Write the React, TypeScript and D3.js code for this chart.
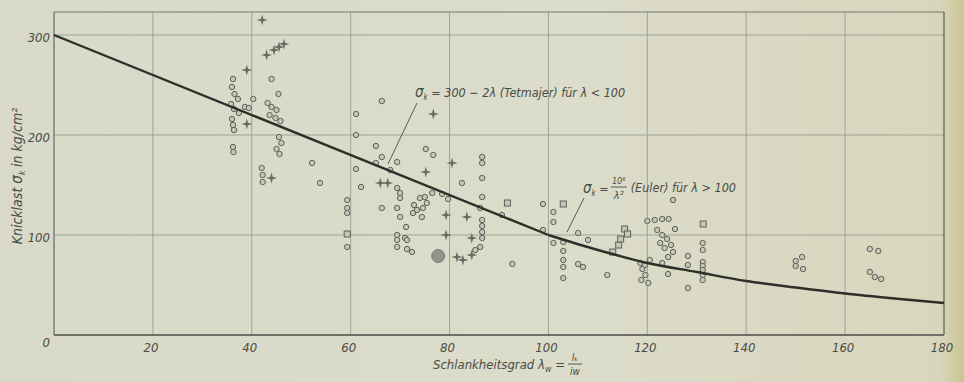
import * as d3 from 'd3';
import { useEffect, useRef } from 'react';

type Pt = [number, number]; // [lambda, sigma]

const W = 964;
const H = 382;

const xTicks = [0, 20, 40, 60, 80, 100, 120, 140, 160, 180];
const yTicks = [0, 100, 200, 300];

// Tetmajer line and Euler curve
const tetmajer: Pt[] = [[0, 300], [100, 100]];
const euler: Pt[] = [
  [100, 100], [110, 85], [120, 72], [130, 63], [140, 54],
  [150, 47.5], [160, 41.5], [170, 36.5], [180, 32],
];

// test results: small circles
const circles: Pt[] = [
  [36.2, 256], [44, 256], [45.4, 241], [36, 248], [36.5, 241], [37.2, 236], [35.8, 231],
  [36.4, 226], [37.4, 222], [36, 216], [38.6, 228], [39.4, 227], [40.3, 236], [43.2, 232],
  [44, 228], [45, 225], [43.6, 220], [44.8, 217], [45.8, 214], [36.2, 210], [36.4, 205],
  [36.2, 188], [36.3, 183], [45.5, 198], [46, 192], [45, 186], [45.6, 181], [42, 167],
  [42.2, 160], [42.2, 153], [52.2, 172], [53.8, 152],
  [66.3, 234], [61.1, 221], [61.1, 200], [65.1, 189], [66.3, 178], [65.1, 172], [68, 165],
  [69.4, 173], [61.1, 166], [62.1, 148], [69.4, 147], [70, 142], [70, 137], [59.3, 135],
  [59.3, 127], [59.3, 122], [66.3, 127], [69.4, 127], [70, 118], [71.2, 108], [71, 97],
  [59.3, 88], [69.4, 100], [69.4, 95], [69.4, 88], [71.4, 95], [71.4, 86], [72.4, 83],
  [74, 137], [75, 138], [75.4, 132], [74.6, 127], [73.4, 125], [72.6, 122], [74.4, 118],
  [76.5, 142], [72.8, 130], [75.2, 186], [76.7, 180], [78.5, 141], [79.7, 136],
  [86.6, 178], [86.6, 172], [86.6, 157], [82.5, 152], [86.6, 138], [86.2, 127],
  [86.6, 115], [86.6, 109], [86.6, 103], [86.6, 97], [86.2, 88], [85.2, 85], [90.6, 120],
  [92.7, 71],
  [98.9, 131], [101, 123], [101, 113], [98.9, 105], [101, 92], [103, 93], [103, 84],
  [103, 75], [103, 68], [103, 57], [106, 102], [108, 95], [106, 71], [107, 68], [111.9, 60],
  [125.2, 135], [120, 114], [121.5, 115], [123, 116], [124.3, 116], [122, 105], [123, 100],
  [124, 96], [122.6, 92], [124.8, 90], [123.5, 87], [125.6, 106], [118.6, 72], [119, 66],
  [119.6, 60], [118.8, 55], [120.2, 52], [120.5, 75], [119.5, 70], [123, 72], [124.2, 78],
  [125.2, 83], [124.2, 61], [128.2, 79], [128.2, 70], [128.2, 47], [131.2, 92], [131.2, 85],
  [131.2, 73], [131.2, 69], [131.2, 65], [131.2, 60], [131.2, 55],
  [150, 74], [151.3, 78], [150, 69], [151.5, 66], [165, 86], [166.7, 84], [165, 63],
  [166, 58], [167.3, 56],
];

// small squares
const squares: Pt[] = [
  [59.3, 101], [91.7, 132], [103, 131], [113, 83], [114.2, 90], [114.6, 96], [115.4, 106],
  [116, 101], [131.3, 111],
];

// four-pointed stars
const stars: Pt[] = [
  [42.1, 315], [43, 280], [44.5, 285], [45.5, 288], [46.5, 291], [39, 265], [39, 211],
  [44, 157], [66, 152], [67.5, 152], [76.7, 221], [75.2, 163], [80.5, 172], [79.3, 120],
  [79.3, 100], [81.5, 78], [82.7, 75], [83.5, 118], [84.5, 97], [84.5, 80],
];

// hatched blob
const blobs: Pt[] = [[77.7, 79]];

const starPath = (cx: number, cy: number, r: number) => {
  const ri = r * 0.3;
  const pts: string[] = [];
  for (let i = 0; i < 8; i++) {
    const a = (i * Math.PI) / 4;
    const rr = i % 2 === 0 ? r : ri;
    pts.push(`${cx + rr * Math.sin(a)},${cy - rr * Math.cos(a)}`);
  }
  return 'M' + pts.join('L') + 'Z';
};

const FONT = '"DejaVu Sans Condensed", "Liberation Sans Narrow", sans-serif';
const INK = '#4b4b47';

const KnickChart: React.FC = () => {
  const ref = useRef<SVGSVGElement | null>(null);

  useEffect(() => {
    if (!ref.current) return;
    const svg = d3.select(ref.current);
    svg.selectAll('*').remove();

    const x = d3.scaleLinear().domain([0, 180]).range([54, 944]);
    const y = d3.scaleLinear().domain([0, 300]).range([335, 35]);
    const yTop = y(323);

    const defs = svg.append('defs');
    const grad = defs.append('linearGradient').attr('id', 'paper');
    grad.append('stop').attr('offset', '0').attr('stop-color', '#d8d9c8');
    grad.append('stop').attr('offset', '0.6').attr('stop-color', '#dbdcca');
    grad.append('stop').attr('offset', '0.975').attr('stop-color', '#d8d7bd');
    grad.append('stop').attr('offset', '1').attr('stop-color', '#cbc38f');
    svg.append('rect').attr('width', W).attr('height', H).attr('fill', 'url(#paper)');

    // grid
    const g = svg.append('g');
    g.selectAll('line.vx')
      .data(xTicks.slice(1, -1))
      .enter().append('line')
      .attr('x1', d => x(d)).attr('x2', d => x(d))
      .attr('y1', yTop).attr('y2', y(0))
      .attr('stroke', '#9b9c93').attr('stroke-width', 0.9);
    g.selectAll('line.hy')
      .data(yTicks.slice(1))
      .enter().append('line')
      .attr('x1', x(0)).attr('x2', x(180))
      .attr('y1', d => y(d)).attr('y2', d => y(d))
      .attr('stroke', '#9b9c93').attr('stroke-width', 0.9);

    // frame
    g.append('line').attr('x1', x(0)).attr('x2', x(180)).attr('y1', yTop).attr('y2', yTop)
      .attr('stroke', '#76766f').attr('stroke-width', 1);
    g.append('line').attr('x1', x(180)).attr('x2', x(180)).attr('y1', yTop).attr('y2', y(0))
      .attr('stroke', '#5e5e58').attr('stroke-width', 1.2);
    g.append('line').attr('x1', x(0)).attr('x2', x(0)).attr('y1', yTop).attr('y2', y(0))
      .attr('stroke', '#5e5e58').attr('stroke-width', 1.1);
    g.append('line').attr('x1', x(0)).attr('x2', x(180)).attr('y1', y(0)).attr('y2', y(0))
      .attr('stroke', '#4d4d48').attr('stroke-width', 1.5);

    // tick labels
    g.selectAll('text.xt')
      .data(xTicks.slice(1))
      .enter().append('text')
      .attr('x', d => x(d) - 2).attr('y', 352)
      .attr('text-anchor', 'middle')
      .style('font-family', FONT).style('font-style', 'italic').style('font-size', '13px')
      .attr('fill', INK)
      .text(d => d);
    g.selectAll('text.yt')
      .data(yTicks)
      .enter().append('text')
      .attr('x', 50)
      .attr('y', d => (d === 0 ? y(d) + 12 : y(d) + 7))
      .attr('text-anchor', 'end')
      .style('font-family', FONT).style('font-style', 'italic').style('font-size', '13px')
      .attr('fill', INK)
      .text(d => d);

    // markers
    const m = svg.append('g');
    m.selectAll('circle.c')
      .data(circles)
      .enter().append('circle')
      .attr('cx', d => x(d[0])).attr('cy', d => y(d[1])).attr('r', 2.7)
      .attr('fill', '#c6c7b8').attr('stroke', '#5f5f5a').attr('stroke-width', 1);
    m.selectAll('rect.s')
      .data(squares)
      .enter().append('rect')
      .attr('x', d => x(d[0]) - 3).attr('y', d => y(d[1]) - 3)
      .attr('width', 6).attr('height', 6)
      .attr('fill', '#c6c7b8').attr('stroke', '#5f5f5a').attr('stroke-width', 1);
    m.selectAll('path.st')
      .data(stars)
      .enter().append('path')
      .attr('d', d => starPath(x(d[0]), y(d[1]), 5.5))
      .attr('fill', '#6a6a64');
    m.selectAll('circle.b')
      .data(blobs)
      .enter().append('circle')
      .attr('cx', d => x(d[0])).attr('cy', d => y(d[1])).attr('r', 6.5)
      .attr('fill', '#93938c').attr('stroke', '#7a7a72').attr('stroke-width', 1);

    // curves
    const line = d3.line<Pt>().x(d => x(d[0])).y(d => y(d[1]));
    svg.append('path').datum(tetmajer).attr('d', line)
      .attr('fill', 'none').attr('stroke', '#2e2e2b').attr('stroke-width', 2.4);
    svg.append('path').datum(euler).attr('d', line.curve(d3.curveMonotoneX))
      .attr('fill', 'none').attr('stroke', '#2e2e2b').attr('stroke-width', 2.4);

    // leader lines
    svg.append('line').attr('x1', 417).attr('y1', 103).attr('x2', 388).attr('y2', 164)
      .attr('stroke', '#5a5a55').attr('stroke-width', 1);
    svg.append('line').attr('x1', 584).attr('y1', 198).attr('x2', 567).attr('y2', 232)
      .attr('stroke', '#5a5a55').attr('stroke-width', 1);

    const txt = (sel: d3.Selection<SVGGElement, unknown, null, undefined>) =>
      sel.style('font-family', FONT).style('font-style', 'italic').attr('fill', INK);
    const endOf = (t: d3.Selection<SVGTextElement, unknown, null, undefined>, x0: number) =>
      x0 + (t.node()?.getComputedTextLength() ?? 0);

    // Tetmajer annotation
    const t1 = txt(svg.append('g'));
    const a1 = t1.append('text').attr('x', 415).attr('y', 97).style('font-size', '12.5px');
    a1.append('tspan').style('font-size', '15px').text('σ');
    a1.append('tspan').attr('dy', 3).style('font-size', '8px').text('k');
    a1.append('tspan').attr('dy', -3).text(' = 300 − 2λ (Tetmajer) für λ < 100');

    // Euler annotation
    const t2 = txt(svg.append('g'));
    const a2 = t2.append('text').attr('x', 583).attr('y', 193).style('font-size', '12.5px');
    a2.append('tspan').style('font-size', '15px').text('σ');
    a2.append('tspan').attr('dy', 3).style('font-size', '8px').text('k');
    a2.append('tspan').attr('dy', -3).text(' =');
    const e2 = endOf(a2, 583) + 2;
    t2.append('text').attr('x', e2 + 8).attr('y', 184).attr('text-anchor', 'middle')
      .style('font-size', '9px').text('10⁶');
    t2.append('line').attr('x1', e2).attr('x2', e2 + 16).attr('y1', 187).attr('y2', 187)
      .attr('stroke', INK).attr('stroke-width', 0.9);
    t2.append('text').attr('x', e2 + 8).attr('y', 199).attr('text-anchor', 'middle')
      .style('font-size', '11px').text('λ²');
    t2.append('text').attr('x', e2 + 20).attr('y', 192).style('font-size', '12.5px')
      .text('(Euler) für λ > 100');

    // x axis title
    const t3 = txt(svg.append('g'));
    const a3 = t3.append('text').attr('x', 433).attr('y', 369).style('font-size', '13px');
    a3.append('tspan').text('Schlankheitsgrad λ');
    a3.append('tspan').attr('dy', 3).style('font-size', '9px').text('w');
    a3.append('tspan').attr('dy', -3).text(' =');
    const e3 = endOf(a3, 433) + 3;
    t3.append('text').attr('x', e3 + 7).attr('y', 361).attr('text-anchor', 'middle')
      .style('font-size', '10px').text('lₖ');
    t3.append('line').attr('x1', e3).attr('x2', e3 + 14).attr('y1', 364).attr('y2', 364)
      .attr('stroke', INK).attr('stroke-width', 0.9);
    t3.append('text').attr('x', e3 + 7).attr('y', 375).attr('text-anchor', 'middle')
      .style('font-size', '10px').text('iw');

    // y axis title
    const t4 = txt(svg.append('g')).attr('transform', 'translate(22,176) rotate(-90)');
    const a4 = t4.append('text').attr('text-anchor', 'middle').style('font-size', '14px');
    a4.append('tspan').text('Knicklast ');
    a4.append('tspan').style('font-size', '15px').text('σ');
    a4.append('tspan').attr('dy', 3).style('font-size', '8px').text('k');
    a4.append('tspan').attr('dy', -3).text(' in kg/cm²');
  }, []);

  return (
    <svg ref={ref} width={W} height={H}
      style={{ position: 'absolute', left: 0, top: 0, display: 'block' }} />
  );
};

export default function App() {
  return <KnickChart />;
}
